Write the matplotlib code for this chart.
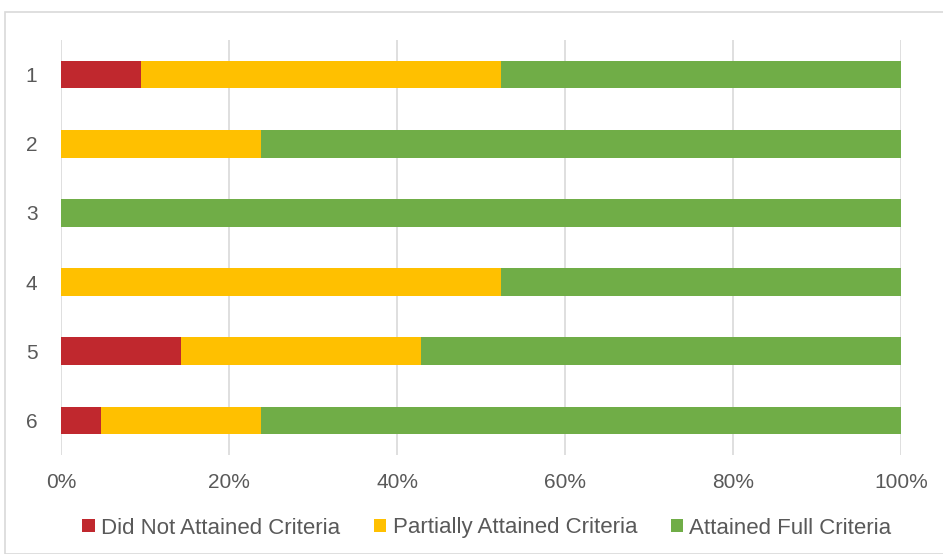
import numpy as np
import matplotlib.pyplot as plt
from matplotlib.patches import Rectangle

# share of students per item (percent), 21 students each
items = ['1', '2', '3', '4', '5', '6']
did_not = [9.52, 0, 0, 0, 14.29, 4.76]
partial = [42.86, 23.81, 0, 52.38, 28.57, 19.05]
full = [47.62, 76.19, 100, 47.62, 57.14, 76.19]
series_names = ['Did Not Attained Criteria', 'Partially Attained Criteria', 'Attained Full Criteria']
colors = ['#C0282E', '#FFC000', '#70AD47']
xticks = [0, 20, 40, 60, 80, 100]

plt.rcParams['font.family'] = ['Liberation Sans', 'DejaVu Sans']

fig = plt.figure(figsize=(9.43, 5.54), dpi=100)
ax = fig.add_axes([61/943, 1-455/554, 840/943, 415/554])

# light frame around the chart
fig.patches.append(Rectangle((5/943, 0.0), 1.0, 1-12/554, transform=fig.transFigure,
                             fill=False, edgecolor='#D9D9D9', linewidth=1.2))

y = np.arange(len(items))
left = np.zeros(len(items))
for vals, name, c in zip([did_not, partial, full], series_names, colors):
    ax.barh(y, vals, left=left, height=0.4, color=c, label=name, zorder=3)
    left = left + np.array(vals)

ax.set_xlim(0, 100)
ax.set_ylim(5.5, -0.5)
ax.set_yticks(y)
ax.set_yticklabels(items)
ax.set_xticks(xticks)
ax.set_xticklabels([f'{v}%' for v in xticks])
ax.tick_params(axis='both', length=0, labelsize=15, colors='#595959')
ax.tick_params(axis='x', pad=13)
ax.tick_params(axis='y', pad=17)
ax.grid(axis='x', color='#D9D9D9', linewidth=1.2, zorder=0)
for s in ax.spines.values():
    s.set_visible(False)

ax.legend(loc='center', bbox_to_anchor=(487/943, 1-528/554), bbox_transform=fig.transFigure,
          ncol=3, frameon=False, fontsize=16, handlelength=0.55, handleheight=0.55,
          handletextpad=0.3, columnspacing=1.5, labelcolor='#595959')

fig.savefig('out.png', dpi=100)
